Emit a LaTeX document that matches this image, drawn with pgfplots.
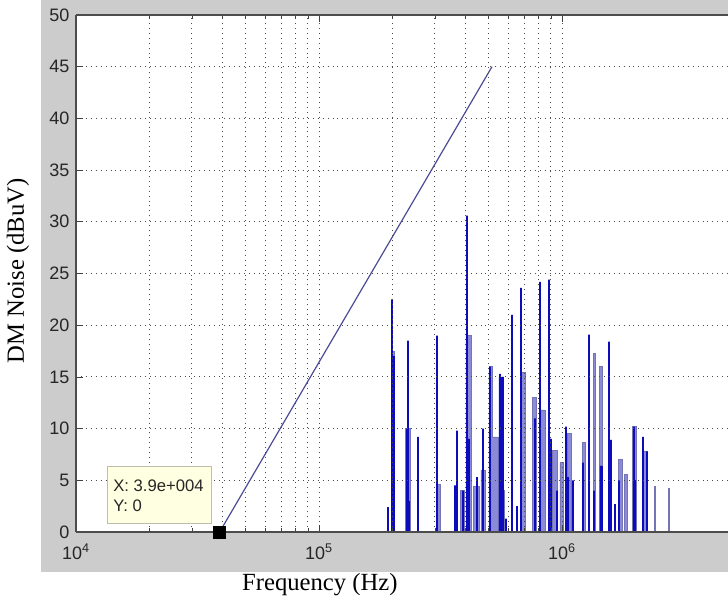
\documentclass[border=0pt]{standalone}
\usepackage{fontspec}
\setmainfont{Liberation Serif}
\setsansfont{Liberation Sans}
\usepackage{pgfplots}
\pgfplotsset{compat=1.18}
\usetikzlibrary{backgrounds}

\definecolor{figgray}{RGB}{204,204,204}
\definecolor{specdark}{RGB}{12,12,188}
\definecolor{speclight}{RGB}{138,138,214}
\definecolor{slope}{RGB}{75,75,150}
\definecolor{tipfill}{RGB}{255,255,225}
\definecolor{tipedge}{RGB}{190,190,170}

\begin{document}
\begin{tikzpicture}
\begin{axis}[
    scale only axis,
    width=489pt, height=387.75pt,
    xmode=log,
    xmin=1e4, xmax=4.82e6,
    ymin=0, ymax=50,
    enlargelimits=false,
    axis x line*=box,
    axis y line*=left,
    axis background/.style={fill=white},
    axis on top,
    axis line style={black!70, line width=1pt},
    tick align=inside,
    tick style={black!75, line width=0.6pt},
    major tick length=5pt,
    minor tick length=3pt,
    ytick={0,5,...,50},
    xtick={1e4,1e5,1e6},
    xticklabels={10\textsuperscript{4},10\textsuperscript{5},10\textsuperscript{6}},
    xmajorgrids, xminorgrids, ymajorgrids,
    grid style={line width=0.7pt, dash pattern=on 0.7pt off 3pt, black!70},
    minor grid style={line width=0.7pt, dash pattern=on 0.7pt off 3pt, black!70},
    /pgf/number format/assume math mode=true,
    ticklabel style={font=\sffamily\fontsize{13.5}{15}\selectfont, text=black!85},
    xticklabel style={yshift=-5pt},
    yticklabel style={xshift=-1.5pt},
    xlabel={Frequency (Hz)},
    ylabel={DM Noise (dBuV)},
    label style={font=\fontsize{18.5}{21}\selectfont},
    xlabel style={at={(axis description cs:0.374,-0.1026)}, anchor=center},
    ylabel style={at={(axis description cs:-0.089,0.505)}, anchor=center},
]
% light (dense) part of the spectrum
\addplot[const plot, fill=speclight, draw=speclight!85!black, line width=0.5pt] coordinates {
 (1.98e5,17.5) (2.05e5,0)
 (2.26e5,10) (2.37e5,0)
 (3.03e5,4.6) (3.15e5,0)
 (3.83e5,4) (3.95e5,0)
 (4.02e5,19) (4.24e5,0)
 (4.31e5,4.4) (4.58e5,0)
 (4.64e5,6) (4.83e5,0)
 (5.00e5,16) (5.15e5,9.2) (5.45e5,0)
 (5.70e5,4) (5.80e5,0)
 (6.73e5,15.4) (7.09e5,0)
 (7.58e5,13) (7.84e5,0)
 (8.18e5,11.8) (8.50e5,0)
 (9.10e5,7.9) (9.60e5,0)
 (9.80e5,6.7) (1.01e6,0)
 (1.05e6,9.5) (1.09e6,0)
 (1.21e6,8.7) (1.25e6,0)
 (1.35e6,17.3) (1.37e6,0)
 (1.43e6,16) (1.47e6,0)
 (1.71e6,7) (1.77e6,0)
 (1.80e6,5.6) (1.85e6,0)
 (1.95e6,10.2) (2.03e6,0)
 (2.17e6,7.8) (2.24e6,0)
 (2.40e6,4.4) (2.43e6,0)
 (2.74e6,4.2) (2.77e6,0)
} \closedcycle;
% dark filled parts
\addplot[const plot, fill=specdark, draw=specdark, line width=0.4pt] coordinates {
 (2.00e5,17) (2.02e5,0)
 (4.06e5,9) (4.13e5,0)
 (5.50e5,15) (5.72e5,0)
 (8.84e5,9) (9.05e5,0)
 (1.03e6,5.3) (1.06e6,0)
 (1.43e6,6.4) (1.46e6,0)
 (1.56e6,8.9) (1.60e6,0)
 (1.96e6,5) (2.01e6,0)
} \closedcycle;
% dark spikes
\addplot[specdark, line width=1.3pt] coordinates {
 (1.92e5,0) (1.92e5,2.4) (1.92e5,0)
 (2.00e5,0) (2.00e5,22.5) (2.00e5,0)
 (2.03e5,0) (2.03e5,17) (2.03e5,0)
 (2.30e5,0) (2.30e5,10) (2.30e5,0)
 (2.32e5,0) (2.32e5,18.5) (2.32e5,0)
 (2.35e5,0) (2.35e5,3) (2.35e5,0)
 (2.56e5,0) (2.56e5,9.2) (2.56e5,0)
 (3.06e5,0) (3.06e5,19) (3.06e5,0)
 (3.63e5,0) (3.63e5,4.5) (3.63e5,0)
 (3.70e5,0) (3.70e5,9.8) (3.70e5,0)
 (3.90e5,0) (3.90e5,4) (3.90e5,0)
 (4.06e5,0) (4.06e5,30.6) (4.06e5,0)
 (4.15e5,0) (4.15e5,9) (4.15e5,0)
 (4.47e5,0) (4.47e5,5.3) (4.47e5,0)
 (4.73e5,0) (4.73e5,10) (4.73e5,0)
 (5.05e5,0) (5.05e5,16) (5.05e5,0)
 (5.56e5,0) (5.56e5,15.3) (5.56e5,0)
 (5.70e5,0) (5.70e5,15) (5.70e5,0)
 (5.90e5,0) (5.90e5,1.3) (5.90e5,0)
 (6.23e5,0) (6.23e5,21) (6.23e5,0)
 (6.53e5,0) (6.53e5,2.5) (6.53e5,0)
 (6.78e5,0) (6.78e5,23.6) (6.78e5,0)
 (7.74e5,0) (7.74e5,11) (7.74e5,0)
 (8.12e5,0) (8.12e5,24.2) (8.12e5,0)
 (8.84e5,0) (8.84e5,24.4) (8.84e5,0)
 (9.00e5,0) (9.00e5,9) (9.00e5,0)
 (9.54e5,0) (9.54e5,4) (9.54e5,0)
 (1.039e6,0) (1.039e6,10.2) (1.039e6,0)
 (1.110e6,0) (1.110e6,5) (1.110e6,0)
 (1.22e6,0) (1.22e6,6.7) (1.22e6,0)
 (1.291e6,0) (1.291e6,19.1) (1.291e6,0)
 (1.354e6,0) (1.354e6,4) (1.354e6,0)
 (1.447e6,0) (1.447e6,6.4) (1.447e6,0)
 (1.561e6,0) (1.561e6,18.4) (1.561e6,0)
 (1.600e6,0) (1.600e6,8.9) (1.600e6,0)
 (1.652e6,0) (1.652e6,2.7) (1.652e6,0)
 (1.716e6,0) (1.716e6,5) (1.716e6,0)
 (1.979e6,0) (1.979e6,10.2) (1.979e6,0)
 (2.154e6,0) (2.154e6,9.2) (2.154e6,0)
 (2.237e6,0) (2.237e6,7.8) (2.237e6,0)
};
% straight line
\addplot[slope, line width=0.9pt] coordinates {(3.9e4,0) (5.15e5,45)};
% data tip marker
\addplot[only marks, mark=square*, mark size=4.5pt, mark options={fill=black, draw=black}] coordinates {(3.9e4,0)};
\end{axis}

\begin{scope}[on background layer]
\fill[figgray] ([xshift=-26.25pt,yshift=-30pt]current axis.south west) rectangle ([yshift=11.25pt]current axis.north east);
\end{scope}

% data tip box
\node[anchor=south west, draw=tipedge, fill=tipfill, line width=0.6pt,
      minimum width=78pt, minimum height=42.75pt, inner sep=0pt]
  (tipbox) at ([xshift=23.25pt,yshift=6pt]current axis.south west) {};
\node[anchor=base west, inner sep=0pt, font=\sffamily\fontsize{12.5}{14}\selectfont, text=black!85]
  at ([xshift=4.5pt,yshift=-18.75pt]tipbox.north west) {X: 3.9e+004};
\node[anchor=base west, inner sep=0pt, font=\sffamily\fontsize{12.5}{14}\selectfont, text=black!85]
  at ([xshift=4.5pt,yshift=-33.75pt]tipbox.north west) {Y: 0};

\pgfresetboundingbox
\path[use as bounding box] ([xshift=-57pt,yshift=-51pt]current axis.south west) rectangle ([yshift=11.25pt]current axis.north east);
\end{tikzpicture}
\end{document}
